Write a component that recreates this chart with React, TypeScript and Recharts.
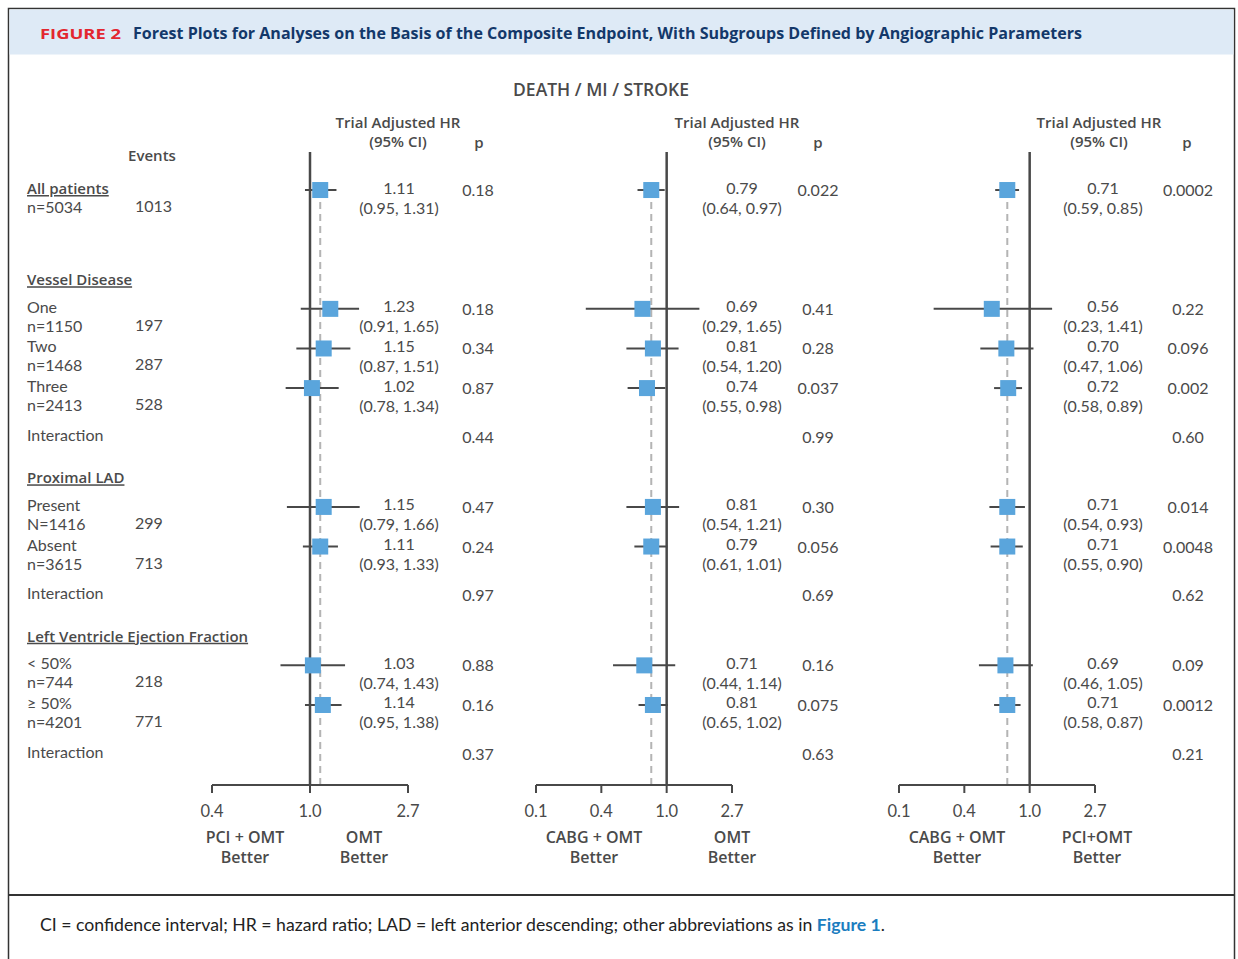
import React from 'react';
import { ScatterChart, Scatter, XAxis, YAxis, ErrorBar, ReferenceLine } from 'recharts';

const W = 1238;
const H = 959;
const FONT = "Lato, 'Open Sans', sans-serif";
const HEAD_FONT = "'Open Sans', 'Noto Sans', sans-serif";
const TEXT = '#4a4a4a';
const LINE = '#484848';
const BOX = '#5aa5dc';

// rows (left column)
const rowLabels = ['All patients', 'One', 'Two', 'Three', 'Present', 'Absent', '< 50%', '≥ 50%'];
const rowCounts = ['n=5034', 'n=1150', 'n=1468', 'n=2413', 'N=1416', 'n=3615', 'n=744', 'n=4201'];
const rowEvents = ['1013', '197', '287', '528', '299', '713', '218', '771'];
const sectionTitles = ['Vessel Disease', 'Proximal LAD', 'Left Ventricle Ejection Fraction'];
const sectionSizes = [3, 2, 2];

// PCI + OMT vs OMT
const pciOmtHR = [1.11, 1.23, 1.15, 1.02, 1.15, 1.11, 1.03, 1.14];
const pciOmtLow = [0.95, 0.91, 0.87, 0.78, 0.79, 0.93, 0.74, 0.95];
const pciOmtHigh = [1.31, 1.65, 1.51, 1.34, 1.66, 1.33, 1.43, 1.38];
const pciOmtP = ['0.18', '0.18', '0.34', '0.87', '0.47', '0.24', '0.88', '0.16'];
const pciOmtInteraction = ['0.44', '0.97', '0.37'];

// CABG + OMT vs OMT
const cabgOmtHR = [0.79, 0.69, 0.81, 0.74, 0.81, 0.79, 0.71, 0.81];
const cabgOmtLow = [0.64, 0.29, 0.54, 0.55, 0.54, 0.61, 0.44, 0.65];
const cabgOmtHigh = [0.97, 1.65, 1.2, 0.98, 1.21, 1.01, 1.14, 1.02];
const cabgOmtP = ['0.022', '0.41', '0.28', '0.037', '0.30', '0.056', '0.16', '0.075'];
const cabgOmtInteraction = ['0.99', '0.69', '0.63'];

// CABG + OMT vs PCI + OMT
const cabgPciHR = [0.71, 0.56, 0.7, 0.72, 0.71, 0.71, 0.69, 0.71];
const cabgPciLow = [0.59, 0.23, 0.47, 0.58, 0.54, 0.55, 0.46, 0.58];
const cabgPciHigh = [0.85, 1.41, 1.06, 0.89, 0.93, 0.9, 1.05, 0.87];
const cabgPciP = ['0.0002', '0.22', '0.096', '0.002', '0.014', '0.0048', '0.09', '0.0012'];
const cabgPciInteraction = ['0.60', '0.62', '0.21'];

// slot of every row on the y axis
const rowSlots: number[] = [0];
const sectionSlots: number[] = [];
const interactionSlots: number[] = [];
let slot = 2;
sectionSizes.forEach((n) => {
  sectionSlots.push(slot++);
  for (let i = 0; i < n; i++) rowSlots.push(slot++);
  interactionSlots.push(slot++);
});

const PLOT_TOP = 152;
const PLOT_BOTTOM = 785;
const X_AXIS_H = 60;
const Y_MIN = -0.96;
const Y_MAX = 15.02;

const panels = [
  {
    hr: pciOmtHR, low: pciOmtLow, high: pciOmtHigh, p: pciOmtP, pInt: pciOmtInteraction,
    firstExp: -1, plotLeft: 212, plotRight: 408, hrX: 399, pX: 478, headX: 398, pHeadX: 479,
    better: [{ x: 245, label: 'PCI + OMT' }, { x: 364, label: 'OMT' }],
  },
  {
    hr: cabgOmtHR, low: cabgOmtLow, high: cabgOmtHigh, p: cabgOmtP, pInt: cabgOmtInteraction,
    firstExp: -2, plotLeft: 536, plotRight: 732, hrX: 742, pX: 818, headX: 737, pHeadX: 818,
    better: [{ x: 594, label: 'CABG + OMT' }, { x: 732, label: 'OMT' }],
  },
  {
    hr: cabgPciHR, low: cabgPciLow, high: cabgPciHigh, p: cabgPciP, pInt: cabgPciInteraction,
    firstExp: -2, plotLeft: 899, plotRight: 1095, hrX: 1103, pX: 1188, headX: 1099, pHeadX: 1187,
    better: [{ x: 957, label: 'CABG + OMT' }, { x: 1097, label: 'PCI+OMT' }],
  },
];

const txt = { fontFamily: FONT, fontSize: 16, fill: TEXT };
const head = { fontFamily: HEAD_FONT, fontSize: 15, fill: TEXT, fontWeight: 600 };

const AxisTick = ({ x, y, payload }: any) => (
  <text x={x} y={y + 23.5} textAnchor="middle" {...txt} fontSize={16.5}>
    {Number(payload.value).toFixed(1)}
  </text>
);

const RowTick = ({ y, payload, first, pX, pInt }: any) => {
  const v = payload.value;
  const ii = interactionSlots.indexOf(v);
  const ri = rowSlots.indexOf(v);
  const si = sectionSlots.indexOf(v);
  return (
    <g>
      {ii >= 0 && (
        <text x={pX} y={y + 15} textAnchor="middle" {...txt}>{pInt[ii]}</text>
      )}
      {first && ii >= 0 && (
        <text x={27} y={y + 13} {...txt}>Interaction</text>
      )}
      {first && si >= 0 && (
        <text x={27} y={y + 16} {...head} style={{ textDecoration: 'underline' }}>{sectionTitles[si]}</text>
      )}
      {first && ri >= 0 && (
        <g>
          {ri === 0 ? (
            <text x={27} y={y + 4} {...head} style={{ textDecoration: 'underline' }}>{rowLabels[ri]}</text>
          ) : (
            <text x={27} y={y + 4} {...txt}>{rowLabels[ri]}</text>
          )}
          <text x={27} y={y + 23} {...txt}>{rowCounts[ri]}</text>
          <text x={135} y={y + 22} {...txt}>{rowEvents[ri]}</text>
        </g>
      )}
    </g>
  );
};

const EstimateShape = ({ cx, cy, payload, hrX, pX }: any) => (
  <g>
    <rect x={cx - 8} y={cy - 8} width={16} height={16} fill={BOX} />
    <text x={hrX} y={cy + 3.5} textAnchor="middle" {...txt}>{payload.hr.toFixed(2)}</text>
    <text x={hrX} y={cy + 23.5} textAnchor="middle" {...txt}>{payload.ci}</text>
    <text x={pX} y={cy + 6} textAnchor="middle" {...txt}>{payload.p}</text>
  </g>
);

function Panel({ panel, first }: any) {
  const data = panel.hr.map((hr: number, i: number) => ({
    hr,
    err: [hr - panel.low[i], panel.high[i] - hr],
    slot: rowSlots[i],
    ci: `(${panel.low[i].toFixed(2)}, ${panel.high[i].toFixed(2)})`,
    p: panel.p[i],
  }));
  const ticks: number[] = [];
  for (let e = panel.firstExp; e <= 1; e++) ticks.push(Math.exp(e));
  const yWidth = first ? 200 : 1;
  const overall = panel.hr[0];
  return (
    <div style={{ position: 'absolute', left: 0, top: 0 }}>
      <ScatterChart
        width={W}
        height={H}
        margin={{ top: PLOT_TOP, bottom: H - PLOT_BOTTOM - X_AXIS_H, left: panel.plotLeft - yWidth, right: W - panel.plotRight }}
      >
        <XAxis
          type="number"
          dataKey="hr"
          scale="log"
          domain={[Math.exp(panel.firstExp), Math.exp(1)]}
          ticks={ticks}
          interval={0}
          height={X_AXIS_H}
          tickSize={8}
          tickMargin={0}
          axisLine={{ stroke: LINE, strokeWidth: 2 }}
          tickLine={{ stroke: LINE, strokeWidth: 2 }}
          tick={<AxisTick />}
        />
        <YAxis
          type="number"
          dataKey="slot"
          domain={[Y_MIN, Y_MAX]}
          reversed
          width={yWidth}
          ticks={first ? [...rowSlots, ...sectionSlots, ...interactionSlots] : interactionSlots}
          interval={0}
          axisLine={false}
          tickLine={false}
          tick={<RowTick first={first} pX={panel.pX} pInt={panel.pInt} />}
        />
        <ReferenceLine
          segment={[{ x: overall, y: 0 }, { x: overall, y: Y_MAX }]}
          stroke="#b4b4b4"
          strokeWidth={2}
          strokeDasharray="7 5"
        />
        <ReferenceLine x={1} stroke={LINE} strokeWidth={2.5} />
        <Scatter
          data={data}
          isAnimationActive={false}
          shape={(props: any) => <EstimateShape {...props} hrX={panel.hrX} pX={panel.pX} />}
        >
          <ErrorBar dataKey="err" direction="x" width={0} stroke={LINE} strokeWidth={2} isAnimationActive={false} />
        </Scatter>
      </ScatterChart>
    </div>
  );
}

export default function App() {
  return (
    <div style={{ position: 'absolute', left: 0, top: 0, width: W, height: H, background: '#fff', overflow: 'hidden', fontFamily: FONT }}>
      <svg width={W} height={H} style={{ position: 'absolute', left: 0, top: 0 }}>
        <rect x={8.5} y={8.5} width={1226} height={980} fill="none" stroke="#333" strokeWidth={1.5} />
        <rect x={9.5} y={9.5} width={1224} height={45} fill="#deeaf6" />
        <text x={40} y={38.5} fontFamily={HEAD_FONT} fontWeight={700} fontSize={13.5} fill="#e3262f" textLength={81} lengthAdjust="spacingAndGlyphs">
          FIGURE 2
        </text>
        <text x={133} y={38.5} fontFamily={HEAD_FONT} fontWeight={700} fontSize={15.5} fill="#13386a" textLength={949} lengthAdjust="spacingAndGlyphs">
          Forest Plots for Analyses on the Basis of the Composite Endpoint, With Subgroups Defined by Angiographic Parameters
        </text>
        <line x1={8} x2={1235} y1={895} y2={895} stroke="#333" strokeWidth={2} />
        <text x={40} y={931} fontFamily={FONT} fontSize={17} fill="#222" textLength={845} lengthAdjust="spacingAndGlyphs">
          CI = confidence interval; HR = hazard ratio; LAD = left anterior descending; other abbreviations as in{' '}
          <tspan fill="#1b7dbf" fontWeight={700}>Figure 1</tspan>.
        </text>
        <text x={601} y={96} textAnchor="middle" {...head} fontSize={17.5}>DEATH / MI / STROKE</text>
        <text x={152} y={161} textAnchor="middle" {...head}>Events</text>
        {panels.map((p, i) => (
          <g key={i}>
            <text x={p.headX} y={128} textAnchor="middle" {...head}>Trial Adjusted HR</text>
            <text x={p.headX} y={147} textAnchor="middle" {...head}>(95% CI)</text>
            <text x={p.pHeadX} y={148} textAnchor="middle" {...head}>p</text>
            {p.better.map((b, j) => (
              <g key={j}>
                <text x={b.x} y={843} textAnchor="middle" {...head} fontSize={16}>{b.label}</text>
                <text x={b.x} y={863} textAnchor="middle" {...head} fontSize={16}>Better</text>
              </g>
            ))}
          </g>
        ))}
      </svg>
      {panels.map((p, i) => (
        <Panel key={i} panel={p} first={i === 0} />
      ))}
    </div>
  );
}
